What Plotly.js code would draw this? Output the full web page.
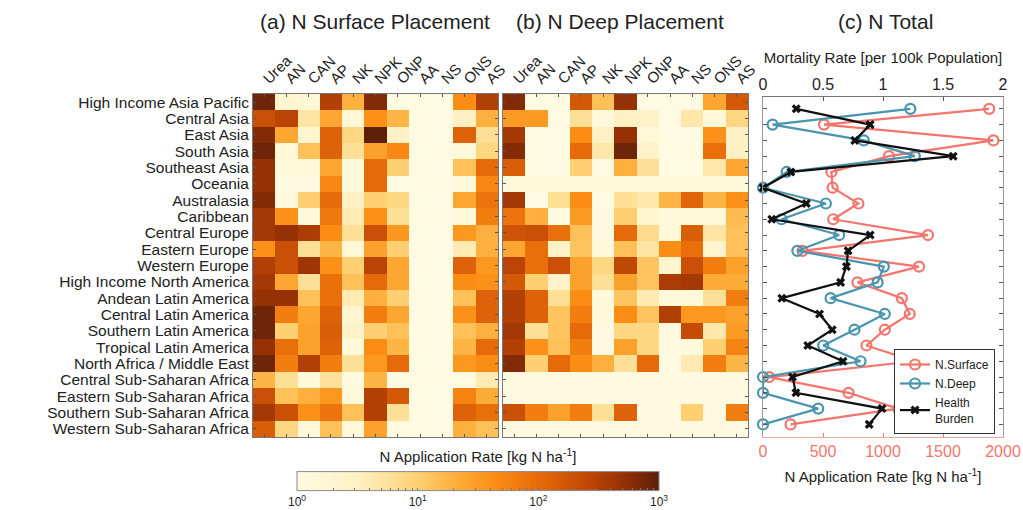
<!DOCTYPE html>
<html>
<head>
<meta charset="utf-8">
<script src="https://cdn.plot.ly/plotly-3.0.1.min.js"></script>
<style>html,body{margin:0;padding:0;background:#fff}#chart{width:1023px;height:510px}</style>
</head>
<body>
<div id="chart"></div>
<script>
// ---------- DATA ----------
const regions = ["High Income Asia Pacific","Central Asia","East Asia","South Asia","Southeast Asia","Oceania","Australasia","Caribbean","Central Europe","Eastern Europe","Western Europe","High Income North America","Andean Latin America","Central Latin America","Southern Latin America","Tropical Latin America","North Africa / Middle East","Central Sub-Saharan Africa","Eastern Sub-Saharan Africa","Southern Sub-Saharan Africa","Western Sub-Saharan Africa"];
const fertilizers = ["Urea","AN","CAN","AP","NK","NPK","ONP","AA","NS","ONS","AS"];

// N application rate, surface placement [kg N/ha], rows = regions, cols = fertilizers
const surfaceRates = [
 [800,2,1.6,316,20,630,1,1,1,45,316],
 [200,280,5,25,1.6,40,18,1,1,3,20],
 [630,25,2,125,8,1000,3,1,1,125,6],
 [800,1.6,14,125,6,28,50,1,1,1.3,8],
 [500,1.3,1.3,25,1.3,100,10,1,1,14,100],
 [500,1.1,1.1,50,1.3,100,1.1,1,1,1.3,50],
 [630,1.3,10,100,3,10,8,1,1,25,80],
 [400,40,1.4,70,4,40,6,1,1,1.4,63],
 [400,500,355,45,6,200,35,1,1,35,20],
 [40,200,6,18,1.6,28,10,1,1,4,20],
 [316,200,450,40,10,280,25,1,1,125,35],
 [400,25,6,90,14,100,25,1,1,45,40],
 [500,500,14,90,4,20,10,1,1,14,125],
 [800,63,25,125,2,63,25,1,1,40,125],
 [800,10,28,140,2.5,10,14,1,1,14,20],
 [500,90,28,125,1.4,45,18,1,1,18,100],
 [800,63,316,63,6,35,100,1,1,35,45],
 [18,6,1.3,5.6,1.1,18,1,1,1,1.1,4],
 [200,14,20,35,1.3,316,160,1,1,56,22],
 [400,200,40,80,14,316,6,1,1,125,90],
 [140,8,1.3,14,1.4,28,1.1,1,1,20,14]
];
// N application rate, deep placement [kg N/ha]
const deepRates = [
 [630,1,1,160,14,500,1,1,1,25,160],
 [32,32,1,6,1.3,3,2.8,1,4.5,1.4,8],
 [400,1,1,45,3,500,1.4,1,1,40,2.8],
 [630,1,1.1,100,4.5,800,2.5,1,1,90,3],
 [140,1,1,10,1,20,6,1,1,4.5,25],
 [1.3,1.3,1.3,1.3,1.3,1.3,1.3,1.3,1.3,1.3,1.3],
 [400,1,6,45,1,6,4.5,18,112,18,40],
 [80,20,1.1,32,1.1,10,2,1.3,1.3,1.3,16],
 [180,200,90,14,1.1,100,7,1.4,140,5,14],
 [25,90,2.5,13,1.3,14,5,45,90,2.2,14],
 [280,90,200,28,8,250,13,2,200,63,28],
 [160,10,2.5,28,6,28,13,355,400,22,22],
 [316,125,6,45,1.4,13,4,1.4,1.4,6,63],
 [316,125,13,63,1.3,45,13,316,35,35,28],
 [400,6,13,100,1.1,8,8,1.1,224,4.5,32],
 [316,40,14,63,1.1,28,8,1.1,1.3,10,56],
 [630,10,100,45,20,6,100,1.1,4,63,18],
 [1.1,1.1,1.1,1.1,1.1,1.1,1.1,1.1,1.1,1.1,1.1],
 [1.1,1.1,1.1,1.1,1.1,1.1,1.1,1.1,1.1,1.1,1.1],
 [200,63,28,63,6,125,1.1,1.1,10,1.1,63],
 [1.1,1.1,1.1,1.1,1.1,1.1,1.1,1.1,1.1,1.1,1.1]
];
// Panel (c)
const surfaceTotal = [1885,508,1920,1050,570,580,795,585,1375,330,1300,787,1157,1223,1015,862,1265,52,713,1125,230];
const deepTotal = [1228,80,840,1265,197,0,524,155,635,286,1007,955,563,1015,762,502,813,0,0,460,0];
const healthBurden = [0.277,0.893,0.765,1.585,0.232,0.0,0.361,0.073,0.893,0.709,0.695,0.647,0.157,0.471,0.577,0.373,0.667,0.246,0.274,0.992,0.885];
const rateTicks = [0,500,1000,1500,2000];
const mortTicks = [0,0.5,1,1.5,2];
const mortTickText = ["0","0.5","1","1.5","2"];
const cbTickText = ["10<sup>0</sup>","10<sup>1</sup>","10<sup>2</sup>","10<sup>3</sup>"];

// ---------- STYLE ----------
const FONT = "Liberation Sans, Arial, Helvetica, sans-serif";
const SALMON = "#f4756d", TEAL = "#4a95ae", BLACK = "#111111";
const W = 1023, H = 510;
const px = v => v / W, py = v => (H - v) / H;

const cscale = [
 [0.00,"#fffbe2"],[0.17,"#fff0c2"],[0.33,"#fed174"],[0.45,"#fdab36"],
 [0.55,"#fb8c14"],[0.667,"#e66a0a"],[0.80,"#c04805"],[0.90,"#963106"],[1.00,"#5c2008"]
];

const logZ = m => m.map(r => r.map(v => Math.log10(v)));

// colorbar ticks (major + minor, log scale)
let cbVals = [], cbText = [];
for (let d = 0; d < 3; d++) {
  for (let k = 1; k < 10; k++) {
    cbVals.push(d + Math.log10(k));
    cbText.push(k === 1 ? cbTickText[d] : "");
  }
}
cbVals.push(3); cbText.push(cbTickText[3]);

const rowIdx = regions.map((_, i) => i + 1);

const traces = [
 {
  type: "heatmap", x: fertilizers, y: regions, z: logZ(surfaceRates),
  xaxis: "x", yaxis: "y", zmin: 0, zmax: 3, colorscale: cscale, hoverinfo: "skip",
  colorbar: {
    orientation: "h", x: px(478), xanchor: "center", y: -0.006, yanchor: "bottom",
    len: 362 / W, lenmode: "fraction", thickness: 19, xpad: 0, ypad: 0,
    outlinewidth: 1, outlinecolor: "#8a8a8a",
    tickvals: cbVals, ticktext: cbText, ticks: "inside", ticklen: 3, tickcolor: "#777",
    tickfont: {size: 12, color: "#222", family: FONT},
    title: {text: "N Application Rate [kg N ha<sup>-1</sup>]", side: "top", font: {size: 15, color: "#222", family: FONT}}
  }
 },
 {
  type: "heatmap", x: fertilizers, y: regions, z: logZ(deepRates),
  xaxis: "x2", yaxis: "y2", zmin: 0, zmax: 3, colorscale: cscale, showscale: false, hoverinfo: "skip"
 },
 {
  type: "scatter", mode: "lines+markers", name: "N.Surface",
  x: surfaceTotal, y: rowIdx, xaxis: "x3", yaxis: "y3",
  line: {color: SALMON, width: 2.2},
  marker: {symbol: "circle-open", size: 10, color: SALMON, line: {width: 2.2, color: SALMON}},
  cliponaxis: false
 },
 {
  type: "scatter", mode: "lines+markers", name: "N.Deep",
  x: deepTotal, y: rowIdx, xaxis: "x3", yaxis: "y3",
  line: {color: TEAL, width: 2.2},
  marker: {symbol: "circle-open", size: 10, color: TEAL, line: {width: 2.2, color: TEAL}},
  cliponaxis: false
 },
 {
  type: "scatter", mode: "lines+markers", name: "Health<br>Burden",
  x: healthBurden, y: rowIdx, xaxis: "x4", yaxis: "y3",
  line: {color: BLACK, width: 2.2},
  marker: {symbol: "x", size: 8, color: BLACK},
  cliponaxis: false
 }
];

const hmX = (d) => ({
  domain: d, side: "top", type: "category", tickangle: -45,
  tickmode: "array", tickvals: fertilizers, ticktext: fertilizers,
  ticks: "inside", ticklen: 3, tickcolor: "#555", showline: true, linecolor: "#777", linewidth: 1,
  mirror: "ticks", tickfont: {size: 15, color: "#222", family: FONT}
});
const hmY = (labels) => ({
  domain: [py(437), py(94)], autorange: "reversed", type: "category",
  tickmode: "array", tickvals: regions, ticktext: regions,
  ticks: "inside", ticklen: 3, tickcolor: "#555", showline: true, linecolor: "#777", linewidth: 1,
  mirror: "ticks", showticklabels: labels, tickfont: {size: 15.5, color: "#222", family: FONT}
});

const titleAnn = (text, x) => ({
  text: text, x: px(x), y: py(22), xref: "paper", yref: "paper", xanchor: "center", yanchor: "middle",
  showarrow: false, font: {size: 21, color: "#222", family: FONT}
});

const layout = {
  width: W, height: H, margin: {l: 0, r: 0, t: 0, b: 0, autoexpand: false},
  paper_bgcolor: "#fff", plot_bgcolor: "#fff",
  font: {family: FONT, color: "#222"},
  xaxis: Object.assign(hmX([px(253), px(498)]), {anchor: "y", automargin: false}),
  yaxis: Object.assign(hmY(true), {anchor: "x", automargin: false}),
  xaxis2: Object.assign(hmX([px(503), px(748)]), {anchor: "y2", automargin: false}),
  yaxis2: Object.assign(hmY(false), {anchor: "x2", automargin: false}),
  xaxis3: {
    domain: [px(763), px(1003)], anchor: "y3", side: "bottom", range: [0, 2000], automargin: false,
    tickvals: rateTicks, ticks: "inside", ticklen: 4, tickcolor: SALMON,
    showline: true, linecolor: "#f3a7a2", linewidth: 1, showgrid: false, zeroline: false,
    tickfont: {size: 16, color: SALMON, family: FONT},
    title: {text: "N Application Rate [kg N ha<sup>-1</sup>]", font: {size: 15, color: "#222", family: FONT}, standoff: 12}
  },
  xaxis4: {
    overlaying: "x3", anchor: "y3", side: "top", range: [0, 2], automargin: false,
    tickvals: mortTicks, ticktext: mortTickText, ticks: "inside", ticklen: 4, tickcolor: "#555",
    showline: true, linecolor: "#777", linewidth: 1, showgrid: false, zeroline: false,
    tickfont: {size: 16, color: "#222", family: FONT},
    title: {text: "Mortality Rate [per 100k Population]", font: {size: 15, color: "#222", family: FONT}, standoff: 8}
  },
  yaxis3: {
    domain: [py(437), py(97)], anchor: "x3", range: [21.8, 0.25], automargin: false,
    tickvals: rowIdx, showticklabels: false,
    ticks: "inside", ticklen: 4, tickcolor: "#555",
    showline: true, linecolor: "#999", linewidth: 1, mirror: "ticks", showgrid: false, zeroline: false
  },
  showlegend: true,
  legend: {
    x: px(894), y: py(434), xanchor: "left", yanchor: "bottom",
    bgcolor: "#fff", bordercolor: "#333", borderwidth: 1,
    font: {size: 12, color: "#222", family: FONT}, tracegroupgap: 0, itemwidth: 30
  },
  annotations: [
    titleAnn("(a) N Surface Placement", 375),
    titleAnn("(b) N Deep Placement", 620),
    titleAnn("(c) N Total", 885)
  ]
};

Plotly.newPlot("chart", traces, layout, {staticPlot: true, displayModeBar: false});
</script>
</body>
</html>
